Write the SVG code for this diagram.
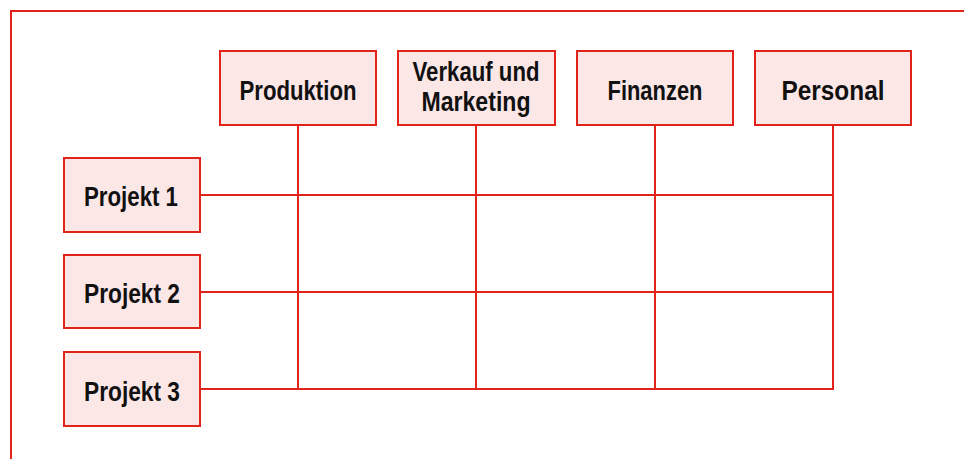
<svg xmlns="http://www.w3.org/2000/svg" width="964" height="459" viewBox="0 0 964 459">
<style>
.box{fill:#fce7e7;stroke:#e2231a;stroke-width:2}
.ln{stroke:#e2231a;stroke-width:2;fill:none}
.t{font-family:"Liberation Sans",Arial,sans-serif;font-weight:bold;font-size:27px;fill:#111;text-anchor:middle}
</style>
<rect x="0" y="0" width="964" height="459" fill="#fff"/>
<path class="ln" d="M11,459 V11 H964"/>
<g id="connectors">
<path class="ln" d="M298,125 V390"/>
<path class="ln" d="M476,125 V390"/>
<path class="ln" d="M655,125 V390"/>
<path class="ln" d="M833,125 V390"/>
<path class="ln" d="M200,195 H834"/>
<path class="ln" d="M200,292 H834"/>
<path class="ln" d="M200,389 H834"/>
</g>
<g id="produktion"><rect class="box" x="220" y="51" width="156" height="74"/><text class="t" x="298" y="100" textLength="117" lengthAdjust="spacingAndGlyphs">Produktion</text></g>
<g id="verkauf"><rect class="box" x="398" y="51" width="157" height="74"/><text class="t" x="476" y="81" textLength="127" lengthAdjust="spacingAndGlyphs">Verkauf und</text><text class="t" x="476" y="111" textLength="109" lengthAdjust="spacingAndGlyphs">Marketing</text></g>
<g id="finanzen"><rect class="box" x="577" y="51" width="156" height="74"/><text class="t" x="655" y="100" textLength="95" lengthAdjust="spacingAndGlyphs">Finanzen</text></g>
<g id="personal"><rect class="box" x="755" y="51" width="156" height="74"/><text class="t" x="833" y="100" textLength="103" lengthAdjust="spacingAndGlyphs">Personal</text></g>
<g id="projekt1"><rect class="box" x="64" y="158" width="136" height="74"/><text class="t" x="131" y="206" textLength="94" lengthAdjust="spacingAndGlyphs">Projekt 1</text></g>
<g id="projekt2"><rect class="box" x="64" y="255" width="136" height="73"/><text class="t" x="132" y="303" textLength="96" lengthAdjust="spacingAndGlyphs">Projekt 2</text></g>
<g id="projekt3"><rect class="box" x="64" y="352" width="136" height="74"/><text class="t" x="132" y="401" textLength="96" lengthAdjust="spacingAndGlyphs">Projekt 3</text></g>
</svg>
